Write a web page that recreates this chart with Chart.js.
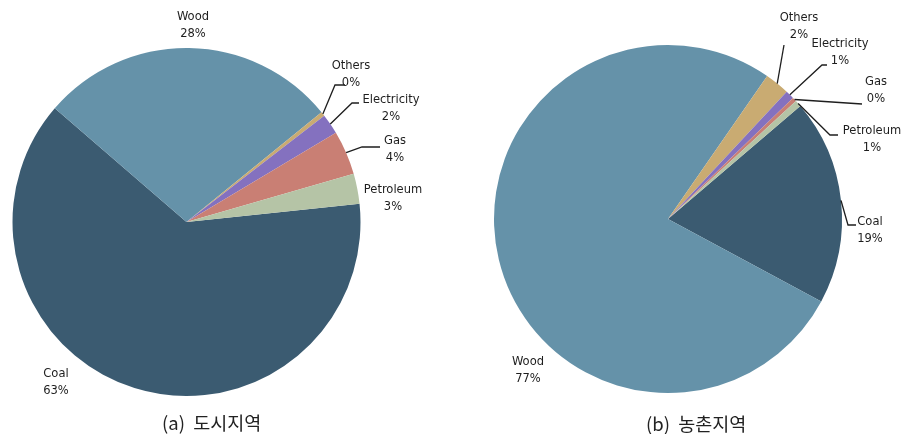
<!DOCTYPE html>
<html>
<head>
<meta charset="utf-8">
<script src="https://cdn.jsdelivr.net/npm/chart.js@4"></script>
<style>
  body { margin: 0; background: #fff; }
  #wrap { position: relative; width: 907px; height: 434px; }
  canvas { position: absolute; top: 0; }
  .caption {
    position: absolute;
    font-family: "Noto Sans CJK KR", sans-serif;
    font-size: 18.5px;
    line-height: 26px;
    color: #222;
    white-space: pre;
  }
</style>
</head>
<body>
<div id="wrap">
  <canvas id="urban" width="453" height="434" style="left:0"></canvas>
  <canvas id="rural" width="454" height="434" style="left:453px"></canvas>
  <div class="caption" style="left:162px; top:409px">(a)  도시지역</div>
  <div class="caption" style="left:646px; top:410px">(b)  농촌지역</div>
</div>
<script>
// fuel types, clockwise from the first slice
var fuels = ["Coal", "Wood", "Others", "Electricity", "Gas", "Petroleum"];
var urbanShare = [63.0, 27.8, 0.4, 1.9, 4.1, 2.8];
var ruralShare = [19.1, 76.8, 2.3, 0.8, 0.4, 0.6];

var colors = ["#3b5b71", "#6592a9", "#c9ab72", "#8471bf", "#c97f74", "#b5c4a6"];

// label placement relative to the pie centre: text centre and optional leader (elbow, end)
var urbanLabels = [
  { dx: -130.5, dy: 160.5 },
  { dx: 6.5, dy: -196.5 },
  { dx: 164.5, dy: -148, lead: [[148.5, -137], [158.5, -137]] },
  { dx: 204.5, dy: -114, lead: [[165.5, -119], [172.5, -119]] },
  { dx: 208.5, dy: -72.5, lead: [[175.5, -75], [193.5, -75]] },
  { dx: 206.5, dy: -23.5 }
];
var ruralLabels = [
  { dx: 202, dy: 11, lead: [[180, 6], [188, 6]] },
  { dx: -140, dy: 151 },
  { dx: 131, dy: -192.5, lead: [[116, -174], [116, -174]] },
  { dx: 172, dy: -166.5, lead: [[154, -154], [159, -154]] },
  { dx: 208, dy: -128.5, lead: [[194, -115], [194, -115]] },
  { dx: 204, dy: -80, lead: [[162, -84], [170, -84]] }
];

var sliceLabels = {
  id: "sliceLabels",
  afterDraw: function (chart, args, opts) {
    var ctx = chart.ctx;
    var meta = chart.getDatasetMeta(0);
    var values = chart.data.datasets[0].data;
    var total = values.reduce(function (a, b) { return a + b; }, 0);
    ctx.save();
    ctx.font = '12.8px "DejaVu Sans Condensed", "DejaVu Sans", sans-serif';
    ctx.fillStyle = "#1e1e1e";
    ctx.strokeStyle = "#1e1e1e";
    ctx.lineWidth = 1.3;
    ctx.textAlign = "center";
    ctx.textBaseline = "middle";
    meta.data.forEach(function (arc, i) {
      var pos = opts.layout[i];
      var cx = arc.x, cy = arc.y;
      if (pos.lead) {
        var mid = (arc.startAngle + arc.endAngle) / 2;
        ctx.beginPath();
        ctx.moveTo(cx + Math.cos(mid) * arc.outerRadius, cy + Math.sin(mid) * arc.outerRadius);
        pos.lead.forEach(function (p) { ctx.lineTo(cx + p[0], cy + p[1]); });
        ctx.stroke();
      }
      var pct = Math.round(values[i] / total * 100) + "%";
      ctx.fillText(chart.data.labels[i], cx + pos.dx, cy + pos.dy - 8.5);
      ctx.fillText(pct, cx + pos.dx, cy + pos.dy + 8.5);
    });
    ctx.restore();
  }
};

function makePie(id, values, rotation, padding, layout) {
  return new Chart(document.getElementById(id), {
    type: "pie",
    data: {
      labels: fuels,
      datasets: [{
        data: values,
        backgroundColor: colors,
        borderWidth: 0
      }]
    },
    options: {
      responsive: false,
      animation: false,
      rotation: rotation,
      layout: { padding: padding },
      plugins: {
        legend: { display: false },
        tooltip: { enabled: false },
        sliceLabels: { layout: layout }
      }
    },
    plugins: [sliceLabels]
  });
}

makePie("urban", urbanShare, 84, { left: 12.5, top: 48, right: 92.5, bottom: 38 }, urbanLabels);
makePie("rural", ruralShare, 49.5, { left: 41, top: 45, right: 65, bottom: 41 }, ruralLabels);
</script>
</body>
</html>
